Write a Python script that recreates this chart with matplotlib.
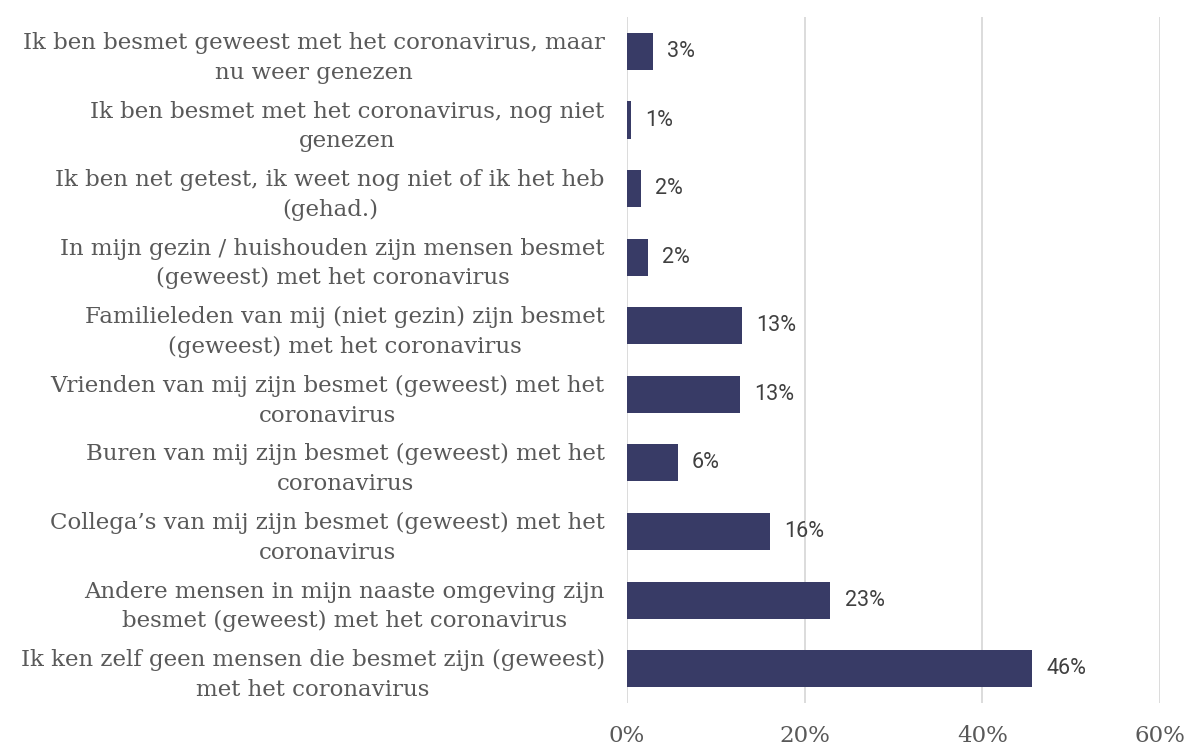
import matplotlib
matplotlib.use("Agg")
import matplotlib.pyplot as plt
from matplotlib.ticker import FuncFormatter

categories = [
    "Ik ben besmet geweest met het coronavirus, maar\nnu weer genezen",
    "Ik ben besmet met het coronavirus, nog niet\ngenezen",
    "Ik ben net getest, ik weet nog niet of ik het heb\n(gehad.)",
    "In mijn gezin / huishouden zijn mensen besmet\n(geweest) met het coronavirus",
    "Familieleden van mij (niet gezin) zijn besmet\n(geweest) met het coronavirus",
    "Vrienden van mij zijn besmet (geweest) met het\ncoronavirus",
    "Buren van mij zijn besmet (geweest) met het\ncoronavirus",
    "Collega\u2019s van mij zijn besmet (geweest) met het\ncoronavirus",
    "Andere mensen in mijn naaste omgeving zijn\nbesmet (geweest) met het coronavirus",
    "Ik ken zelf geen mensen die besmet zijn (geweest)\nmet het coronavirus",
]
values = [2.9, 0.5, 1.6, 2.4, 12.9, 12.7, 5.7, 16.1, 22.9, 45.6]
value_labels = ["3%", "1%", "2%", "2%", "13%", "13%", "6%", "16%", "23%", "46%"]
xticks = [0, 20, 40, 60]

fig = plt.figure(figsize=(11.89, 7.45), dpi=100)
ax = fig.add_axes([0.5273, 0.0564, 0.9756 - 0.5273, 0.977 - 0.0564])

y = list(range(len(categories)))
ax.barh(y, values, height=0.54, color="#383B66", zorder=3)
ax.set_ylim(len(categories) - 0.5, -0.5)
ax.set_xlim(0, 60)
ax.set_xticks(xticks)
ax.xaxis.set_major_formatter(FuncFormatter(lambda v, p: f"{int(v)}%"))
ax.set_yticks(y)
ax.set_yticklabels(categories, fontfamily="DejaVu Serif", fontsize=16.5,
                   color="#595959", linespacing=1.45, ha="right")
for lbl in ax.get_yticklabels():
    lbl.set_multialignment("center")
ax.tick_params(axis="y", length=0, pad=16)
ax.tick_params(axis="x", length=0, pad=16, labelsize=16.5, labelcolor="#595959")
for lbl in ax.get_xticklabels():
    lbl.set_fontfamily("DejaVu Serif")
ax.grid(axis="x", color="#d9d9d9", linewidth=1.3, zorder=0)
for s in ["top", "right", "bottom", "left"]:
    ax.spines[s].set_visible(False)

for yi, v, t in zip(y, values, value_labels):
    ax.text(v + 1.6, yi, t, va="center", ha="left", fontfamily="Roboto",
            fontsize=15.5, color="#404040")

fig.savefig("out.png", dpi=100)
